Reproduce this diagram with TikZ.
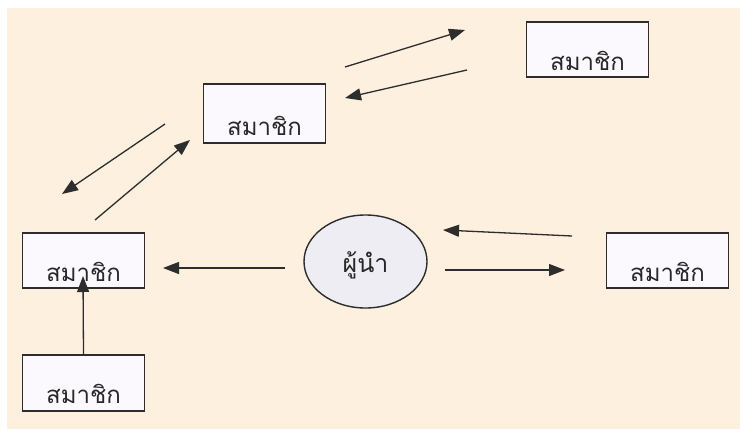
\documentclass[tikz,border=0pt]{standalone}
\usepackage{fontspec}
\newfontfamily\thaifont[Script=Thai]{Loma}
\usetikzlibrary{arrows.meta,shapes.geometric}
\definecolor{bgcream}{RGB}{253,240,222}
\definecolor{boxfill}{RGB}{251,249,253}
\definecolor{ellfill}{RGB}{238,237,243}
\definecolor{inkline}{RGB}{45,45,45}
\definecolor{inktext}{RGB}{40,40,40}
\begin{document}
\begin{tikzpicture}[x=1pt,y=-1pt,
  member/.style={draw=inkline, line width=1.4pt, fill=boxfill, minimum width=122pt,
    minimum height=55pt, inner sep=0pt, text height=41pt, text depth=0pt,
    text=inktext, font=\thaifont\fontsize{24}{28}\selectfont},
  leader/.style={ellipse, draw=inkline, line width=1.4pt, fill=ellfill, minimum width=123pt,
    minimum height=93pt, inner sep=0pt, text height=22pt, text depth=0pt,
    text=inktext, font=\thaifont\fontsize{25}{28}\selectfont},
  link/.style={draw=inkline, line width=1.3pt, -{Triangle[length=16pt,width=12pt]}}
]
\fill[white] (0,0) rectangle (740,429);
\fill[bgcream] (7,8) rectangle (740,429);
\useasboundingbox (0,0) rectangle (740,429);

\node[member] (m1) at (587.5,49.5) {สมาชิก};
\node[member, minimum height=59pt, text height=43pt] (m2) at (264.5,113.5) {สมาชิก};
\node[member] (m3) at (83.5,260.5) {สมาชิก};
\node[member, minimum height=56pt] (m4) at (83.5,383) {สมาชิก};
\node[member] (m5) at (667.5,260.5) {สมาชิก};
\node[leader] (ld) at (365.5,261.5) {ผู้นำ};

\coordinate (a1s) at (345,67);  \coordinate (a1e) at (465,30);
\coordinate (a2s) at (467,70);  \coordinate (a2e) at (345,98);
\coordinate (a3s) at (165,124); \coordinate (a3e) at (62,194);
\coordinate (a4s) at (95,220);  \coordinate (a4e) at (190,140);
\coordinate (a5s) at (285,268); \coordinate (a5e) at (163,268);
\coordinate (a6s) at (572,236); \coordinate (a6e) at (443,230);
\coordinate (a7s) at (445,270); \coordinate (a7e) at (565,270);
\coordinate (a8e) at (83,276);

\draw[link] (a1s) -- (a1e);
\draw[link] (a2s) -- (a2e);
\draw[link] (a3s) -- (a3e);
\draw[link] (a4s) -- (a4e);
\draw[link] (a5s) -- (a5e);
\draw[link] (a6s) -- (a6e);
\draw[link] (a7s) -- (a7e);
\draw[link] (m4.north) -- (a8e);
\end{tikzpicture}
\end{document}
